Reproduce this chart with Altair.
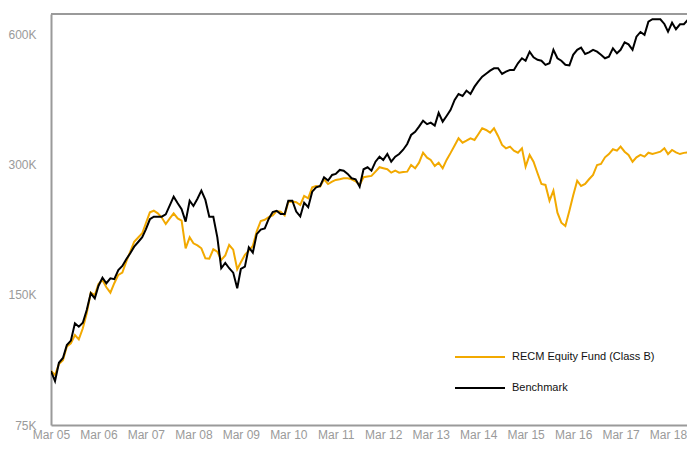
import altair as alt
import pandas as pd

# Monthly observations, Mar 2005 onward (growth of 100K, in thousands)
months = pd.date_range("2005-03-01", periods=163, freq="MS")

recm = [
    100, 97.9, 103.8, 106, 114, 115.9, 121.2, 118.4, 125.6, 136,
    151.9, 150, 159, 162.5, 156.3, 151.9, 159.7, 167, 169, 179.2,
    189, 199.3, 203.8, 208.5, 219.9, 233.1, 235.1, 231.8, 226.7, 219,
    225.6, 231.8, 225.6, 223, 192.4, 204, 197.6, 195.4, 192.4, 182.4,
    182, 191.4, 189, 180.8, 185.2, 195.8, 191, 172, 178.6, 185.7,
    190, 194.8, 210.6, 222.6, 224, 227.3, 229.2, 234.6, 234, 229.2,
    246.2, 247, 246, 242.4, 254.3, 251.2, 266.3, 268.2, 267.2, 278,
    271, 274.5, 277, 278, 279.5, 279.5, 278, 275, 269.7, 281,
    282, 283, 289.5, 296.4, 294.8, 293.2, 288, 291, 288, 289,
    289.5, 300, 294.8, 303.7, 320.3, 312, 308.2, 298.4, 303.7, 294.8,
    308.2, 320, 333, 345.9, 337.9, 341.5, 345.9, 342.9, 353, 364.8,
    361.6, 356.4, 364.8, 350.2, 333.8, 327.9, 330.8, 323.8, 320.3, 327.9,
    297.3, 316.5, 305.3, 287, 271.1, 269.7, 248, 261.6, 232.6, 220.5,
    216.7, 235, 255, 275.9, 268.2, 271.1, 278, 284.5, 300, 301.6,
    312.5, 318, 326.2, 323.8, 330.8, 322, 316.5, 305.3, 312.5, 316.5,
    313.6, 320.3, 318, 320, 322, 327.9, 318, 325, 321, 318,
    320, 321, 315,
]

benchmark = [
    100, 94.8, 104.5, 107.2, 114.9, 117.6, 129.0, 126.7, 129.4, 138.5,
    151.4, 147.4, 157.4, 164.5, 159.7, 164, 163.2, 171.4, 175.1, 181.5,
    187.4, 194.1, 199, 204.1, 212.9, 224.6, 227.7, 227.7, 227.7, 230.6,
    241.8, 253.4, 244.6, 236.9, 221.8, 248, 241.1, 250.5, 261.6, 249,
    227.7, 227.7, 204, 173, 178, 173, 169, 155.5, 172.3, 174.5,
    193.4, 188, 207.5, 212.5, 214, 225, 233.5, 235, 231, 231,
    248, 248, 234, 228, 245.4, 239.5, 260.2, 266.3, 268.2, 281,
    276, 284.5, 286, 292.2, 291, 286, 279.5, 278, 267.2, 293.2,
    296.4, 291, 305.3, 313.6, 308.2, 318.1, 305.3, 313.6, 318, 325.4,
    335.5, 352, 358, 368, 380, 373, 376, 370, 396, 378,
    389.6, 402.4, 424.3, 438, 433.4, 446, 438, 455.5, 467.7, 480.5,
    488, 496, 502.4, 502.4, 487.4, 493.4, 498, 498, 516, 530,
    523, 548.9, 532.6, 525.5, 523, 511.6, 516, 554.3, 530, 523,
    512, 510, 539.7, 554.3, 560.7, 542.2, 547, 554.3, 548.9, 540,
    530, 534.4, 559, 544.2, 554.3, 577, 570.9, 554.3, 594.6, 609.7,
    600.5, 644, 652.5, 652.5, 652.5, 636.3, 610.5, 640.5, 618.6, 635.3,
    635.3, 650.6, 616.8,
]

series_names = ["RECM Equity Fund (Class B)", "Benchmark"]
series_colors = ["#F2A900", "#000000"]
y_ticks = [75, 150, 300, 600]
x_tick_years = list(range(2005, 2019))

df = pd.DataFrame({
    "date": list(months) * 2,
    "value": recm + benchmark,
    "series": [series_names[0]] * len(recm) + [series_names[1]] * len(benchmark),
})

FONT = "Liberation Sans"
AXIS_GREY = "#9a9a9a"

# whole svg must fit 679 x 433 so the page (with its 8px margins) fits the window
W, H = 636, 411

x_enc = alt.X(
    "date:T",
    scale=alt.Scale(domain=[alt.DateTime(year=2005, month=3, date=1),
                            alt.DateTime(year=2018, month=7, date=25)]),
    axis=alt.Axis(
        values=[alt.DateTime(year=y, month=3, date=1) for y in x_tick_years],
        format="%b %y", title=None, ticks=False, grid=False,
        domainColor=AXIS_GREY, domainWidth=2,
        labelColor=AXIS_GREY, labelFont=FONT, labelFontSize=12,
        labelPadding=4, labelAngle=0, labelFlush=False, labelOverlap=False,
    ),
)

y_enc = alt.Y(
    "value:Q",
    scale=alt.Scale(type="log", domain=[75, 671]),
    axis=alt.Axis(
        values=y_ticks, labelExpr="datum.value + 'K'", title=None,
        ticks=False, grid=False, domainColor=AXIS_GREY, domainWidth=2,
        labelColor=AXIS_GREY, labelFont=FONT, labelFontSize=12,
        labelPadding=15, labelFlush=False,
    ),
)

color_enc = alt.Color(
    "series:N",
    scale=alt.Scale(domain=series_names, range=series_colors),
    legend=alt.Legend(
        orient="none", legendX=423, legendY=337, title=None,
        symbolType="M-5,0H5", symbolSize=100, symbolStrokeWidth=2,
        labelFont=FONT, labelFontSize=11, labelColor="#111111",
        labelOffset=26, rowPadding=20, padding=0, labelLimit=400,
    ),
)

base = alt.Chart(df)

orange_line = base.transform_filter(
    alt.datum.series == series_names[0]
).mark_line(strokeWidth=2, clip=True).encode(x=x_enc, y=y_enc, color=color_enc)

black_line = base.transform_filter(
    alt.datum.series == series_names[1]
).mark_line(strokeWidth=2, clip=True).encode(x=x_enc, y=y_enc, color=color_enc)

top_border = alt.Chart(pd.DataFrame({"k": [0]})).mark_rule(
    color=AXIS_GREY, strokeWidth=2
).encode(x=alt.value(0), x2=alt.value(W), y=alt.value(0))

chart = alt.layer(orange_line, black_line, top_border).properties(
    width=W, height=H,
    autosize="none",
    padding={"left": 43, "top": 6, "right": 0, "bottom": 16},
    background="white",
).configure_view(stroke=None)

chart.save("out.html", embed_options={"renderer": "svg", "actions": False})
